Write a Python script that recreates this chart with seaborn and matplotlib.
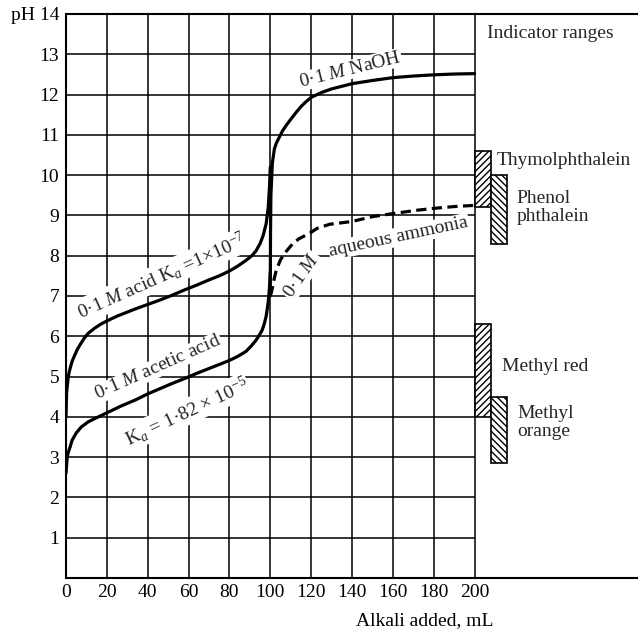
import numpy as np
import matplotlib
matplotlib.use("Agg")
import matplotlib.pyplot as plt
import seaborn as sns

# weak acid, Ka = 1e-7, up to the equivalence point
weak_x = [0, 0.3, 1, 1.5, 2, 3, 4, 5.5, 7, 9, 11, 14, 17, 20, 25, 29, 34, 40, 46, 52,
          58, 64, 70, 75, 80, 84, 88, 91, 93, 95, 96.5, 98, 99, 99.6, 100]
weak_ph = [4.0, 4.6, 4.95, 5.1, 5.2, 5.38, 5.5, 5.67, 5.8, 5.96, 6.08, 6.2, 6.3, 6.38,
           6.5, 6.58, 6.68, 6.79, 6.9, 7.02, 7.15, 7.27, 7.4, 7.5, 7.62, 7.74, 7.88, 8.0,
           8.12, 8.3, 8.5, 8.8, 9.2, 9.7, 10.2]

# acetic acid, up to the equivalence point
acetic_x = [0, 0.5, 1, 2, 3, 5, 7.5, 11, 15, 20, 27, 34, 40, 46, 52, 58, 64, 70, 75, 80,
            84, 88, 90.5, 93, 94.5, 96, 97, 98, 99, 99.6, 100]
acetic_ph = [2.6, 2.95, 3.1, 3.25, 3.42, 3.6, 3.75, 3.88, 3.98, 4.1, 4.27, 4.42, 4.57,
             4.7, 4.83, 4.95, 5.08, 5.2, 5.3, 5.4, 5.5, 5.62, 5.75, 5.9, 6.02, 6.15, 6.3,
             6.5, 6.85, 7.2, 7.6]

# excess 0.1 M NaOH
naoh_x = [100, 100.1, 100.3, 101, 102, 103, 104, 106, 108, 111, 113, 115, 117, 120, 125,
          130, 140, 150, 160, 170, 180, 190, 200]
naoh_ph = [7.0, 8.5, 9.5, 10.3, 10.65, 10.8, 10.9, 11.1, 11.25, 11.45, 11.58, 11.7, 11.8,
           11.93, 12.05, 12.14, 12.27, 12.35, 12.42, 12.46, 12.49, 12.51, 12.52]

# excess 0.1 M aqueous ammonia
nh3_x = [100, 100.6, 102, 103, 105, 108, 111, 114, 119, 123, 129, 140, 150, 162, 172,
         181, 190, 200]
nh3_ph = [7.0, 7.1, 7.45, 7.65, 7.9, 8.12, 8.3, 8.42, 8.55, 8.68, 8.78, 8.85, 8.97,
          9.06, 9.13, 9.18, 9.22, 9.25]

# indicator ranges (pH low, pH high)
indicators = ["Thymolphthalein", "Phenol\nphthalein", "Methyl red", "Methyl\norange"]
ind_low = [9.2, 8.3, 4.0, 2.85]
ind_high = [10.6, 10.0, 6.3, 4.5]
ind_col = [0, 1, 0, 1]

sns.set_theme(style="white")
plt.rcParams['font.family'] = ['Liberation Serif', 'DejaVu Serif']
plt.rcParams['mathtext.fontset'] = 'custom'
plt.rcParams['mathtext.rm'] = 'Liberation Serif'
plt.rcParams['mathtext.it'] = 'Liberation Serif:italic'
plt.rcParams['hatch.linewidth'] = 1.0

fig = plt.figure(figsize=(6.38, 6.30), dpi=100)
ax = fig.add_axes([66 / 638, 52 / 630, 1 - 66 / 638, 564 / 630])

# grid only over the titration area
ax.hlines(range(1, 14), 0, 200, color="black", lw=1.1, zorder=1)
ax.vlines(range(20, 201, 20), 0, 14, color="black", lw=1.1, zorder=1)

lw = 2.3
kw = dict(ax=ax, color="black", lw=lw, sort=False, estimator=None, zorder=4)
sns.lineplot(x=weak_x, y=weak_ph, **kw)
sns.lineplot(x=acetic_x, y=acetic_ph, **kw)
sns.lineplot(x=naoh_x, y=naoh_ph, **kw)
sns.lineplot(x=nh3_x, y=nh3_ph, linestyle=(0, (3.2, 1.7)), **kw)

# indicator bars
hatches = ["/////", "\\\\\\\\\\"]
for lo, hi, c in zip(ind_low, ind_high, ind_col):
    ax.bar(200 + 8 * c, hi - lo, width=8, bottom=lo, align="edge", color="white",
           edgecolor="black", hatch=hatches[c], lw=1.2, zorder=3)

fs = 14
ax.text(206, 13.52, "Indicator ranges", fontsize=fs, va="center", ha="left")
ax.text(210.8, 10.37, indicators[0], fontsize=fs, va="center", ha="left")
ax.text(220.5, 9.2, indicators[1], fontsize=fs, va="center", ha="left", linespacing=1.05)
ax.text(213.2, 5.24, indicators[2], fontsize=fs, va="center", ha="left")
ax.text(221, 3.86, indicators[3], fontsize=fs, va="center", ha="left", linespacing=1.05)

# curve labels, on white so the grid breaks round them
box = dict(boxstyle="square,pad=0.05", fc="white", ec="none")
lab = dict(fontsize=fs, ha="center", va="center", bbox=box, zorder=3)
ax.text(139, 12.62, "0·1 $M$ NaOH", rotation=14, **lab)
ax.text(47, 7.5, "0·1 $M$ acid K$_a$ =1×10$^{-7}$", rotation=24, **lab)
ax.text(45, 5.22, "0·1 $M$ acetic acid", rotation=24, **lab)
ax.text(59, 4.12, "K$_a$ = 1·82 × 10$^{-5}$", rotation=25, **lab)
ax.text(115.5, 7.5, "0·1 $M$", rotation=55, **lab)
ax.text(163, 8.47, "aqueous ammonia", rotation=12, **lab)

ax.set_xlim(0, 280)
ax.set_ylim(0, 14)
ax.set_xticks(range(0, 201, 20))
ax.set_yticks(range(1, 15))
ax.set_yticklabels([str(v) for v in range(1, 14)] + ["pH 14"])
ax.tick_params(axis="both", length=0, labelsize=fs, colors="black")
ax.tick_params(axis="x", pad=4)
ax.tick_params(axis="y", pad=5)
ax.set_xlabel("Alkali added, mL", fontsize=14, color="black")
ax.xaxis.set_label_coords(0.627, -0.061)

for side in ["left", "top", "bottom"]:
    ax.spines[side].set_color("black")
    ax.spines[side].set_linewidth(1.5)
ax.spines["right"].set_visible(False)

fig.savefig("out.png", dpi=100)
